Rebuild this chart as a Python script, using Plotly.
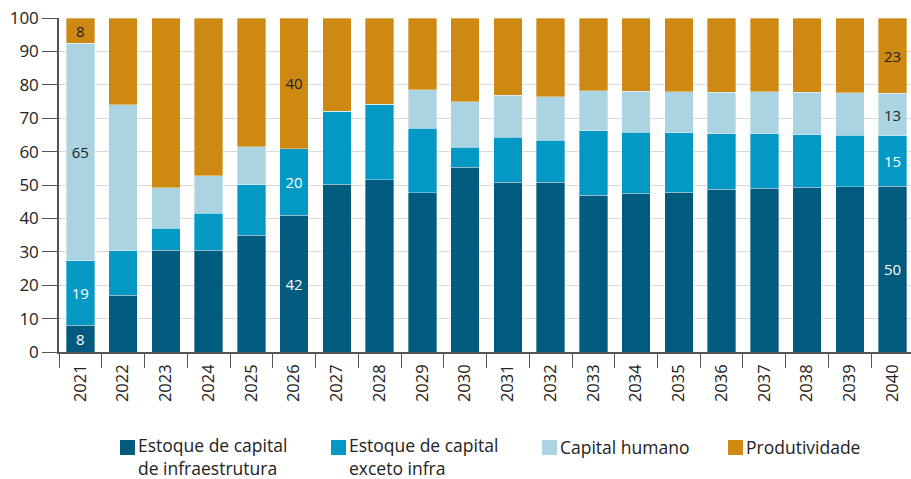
import plotly.graph_objects as go

years = [str(y) for y in range(2021, 2041)]

infra = [8, 17.0, 30.5, 30.5, 35.0, 41.0, 50.3, 51.5, 47.7, 55.3,
         50.8, 50.8, 46.9, 47.5, 47.9, 48.7, 49.0, 49.3, 49.5, 49.7]
exceto = [19.3, 13.3, 6.6, 11.0, 15.1, 19.8, 21.8, 22.7, 19.3, 6.0,
          13.5, 12.6, 19.3, 18.3, 17.7, 16.6, 16.4, 15.8, 15.4, 15.0]
humano = [65.2, 43.7, 12.1, 11.3, 11.3, 0, 0, 0, 11.5, 13.6,
          12.6, 13.0, 12.0, 12.3, 12.3, 12.5, 12.5, 12.6, 12.7, 12.7]
produt = [7.5, 26.0, 50.8, 47.2, 38.6, 39.2, 27.9, 25.8, 21.5, 25.1,
          23.1, 23.6, 21.8, 21.9, 22.1, 22.2, 22.1, 22.3, 22.4, 22.6]

lbl_infra = ["8", "", "", "", "", "42"] + [""] * 13 + ["50"]
lbl_exceto = ["19", "", "", "", "", "20"] + [""] * 13 + ["15"]
lbl_humano = ["65"] + [""] * 18 + ["13"]
lbl_produt = ["8", "", "", "", "", "40"] + [""] * 13 + ["23"]

names = [["Estoque de capital", "de infraestrutura"],
         ["Estoque de capital", "exceto infra"],
         ["Capital humano"],
         ["Produtividade"]]
colors = ["#005B7F", "#0399C4", "#ABD4E2", "#CD8912"]
txtcolors = ["white", "white", "#222222", "#222222"]

FONT = "Open Sans"

fig = go.Figure()
for vals, lbls, name, col, tc in zip([infra, exceto, humano, produt],
                                     [lbl_infra, lbl_exceto, lbl_humano, lbl_produt],
                                     names, colors, txtcolors):
    fig.add_trace(go.Bar(
        x=years, y=vals, name=" ".join(name),
        marker=dict(color=col, line=dict(color="rgba(255,255,255,0.5)", width=0.7)),
        text=lbls, textposition="inside", insidetextanchor="middle",
        textfont=dict(family=FONT, size=15, color=tc),
        textangle=0, constraintext="none",
        showlegend=False, hoverinfo="x+y+name",
    ))

W, H = 911, 479
L, R, T, B = 59, 0, 18, 127
pw, ph = W - L - R, H - T - B

fig.update_layout(
    width=W, height=H, barmode="stack", bargap=0.33,
    margin=dict(l=L, r=R, t=T, b=B, autoexpand=False),
    paper_bgcolor="white", plot_bgcolor="white",
    font=dict(family=FONT, size=17, color="#222222"),
)
fig.update_xaxes(
    type="category", range=[-0.5, 19.43], automargin=False,
    tickangle=-90, tickfont=dict(size=16.5, color="#222222"), ticklabelstandoff=4,
    ticks="outside", tickson="boundaries", ticklen=14, tickcolor="#555555", tickwidth=1.2,
    showline=True, linecolor="#555555", linewidth=1.5,
    showgrid=False,
)
fig.update_yaxes(
    range=[0, 100], dtick=10, automargin=False, tickfont=dict(size=17, color="#222222"),
    ticks="outside", ticklen=15, tickcolor="#555555", tickwidth=1.2,
    showline=True, linecolor="#555555", linewidth=1.5,
    showgrid=True, gridcolor="#D9D9D9", gridwidth=1.2,
    zeroline=False,
)

# custom legend (pixel positions converted to paper coords)
def px2x(px):
    return (px - L) / pw

def py2y(py):
    return (H - B - py) / ph

leg_x = [120, 331, 542, 728]
for lx, name, col in zip(leg_x, names, colors):
    fig.add_shape(type="rect", xref="paper", yref="paper",
                  x0=px2x(lx), x1=px2x(lx + 15), y0=py2y(440), y1=py2y(455),
                  fillcolor=col, line=dict(width=0))
    yc = 446.5 + (len(name) - 1) * 9.5
    fig.add_annotation(xref="paper", yref="paper", x=px2x(lx + 15.5), y=py2y(yc),
                       xanchor="left", yanchor="middle", align="left", showarrow=False,
                       text="<br>".join(name), font=dict(family=FONT, size=17.5, color="#222222"))

fig.write_html("out.html", config={"displayModeBar": False},
               post_script="document.body.style.margin='0';document.body.style.overflow='hidden';")
